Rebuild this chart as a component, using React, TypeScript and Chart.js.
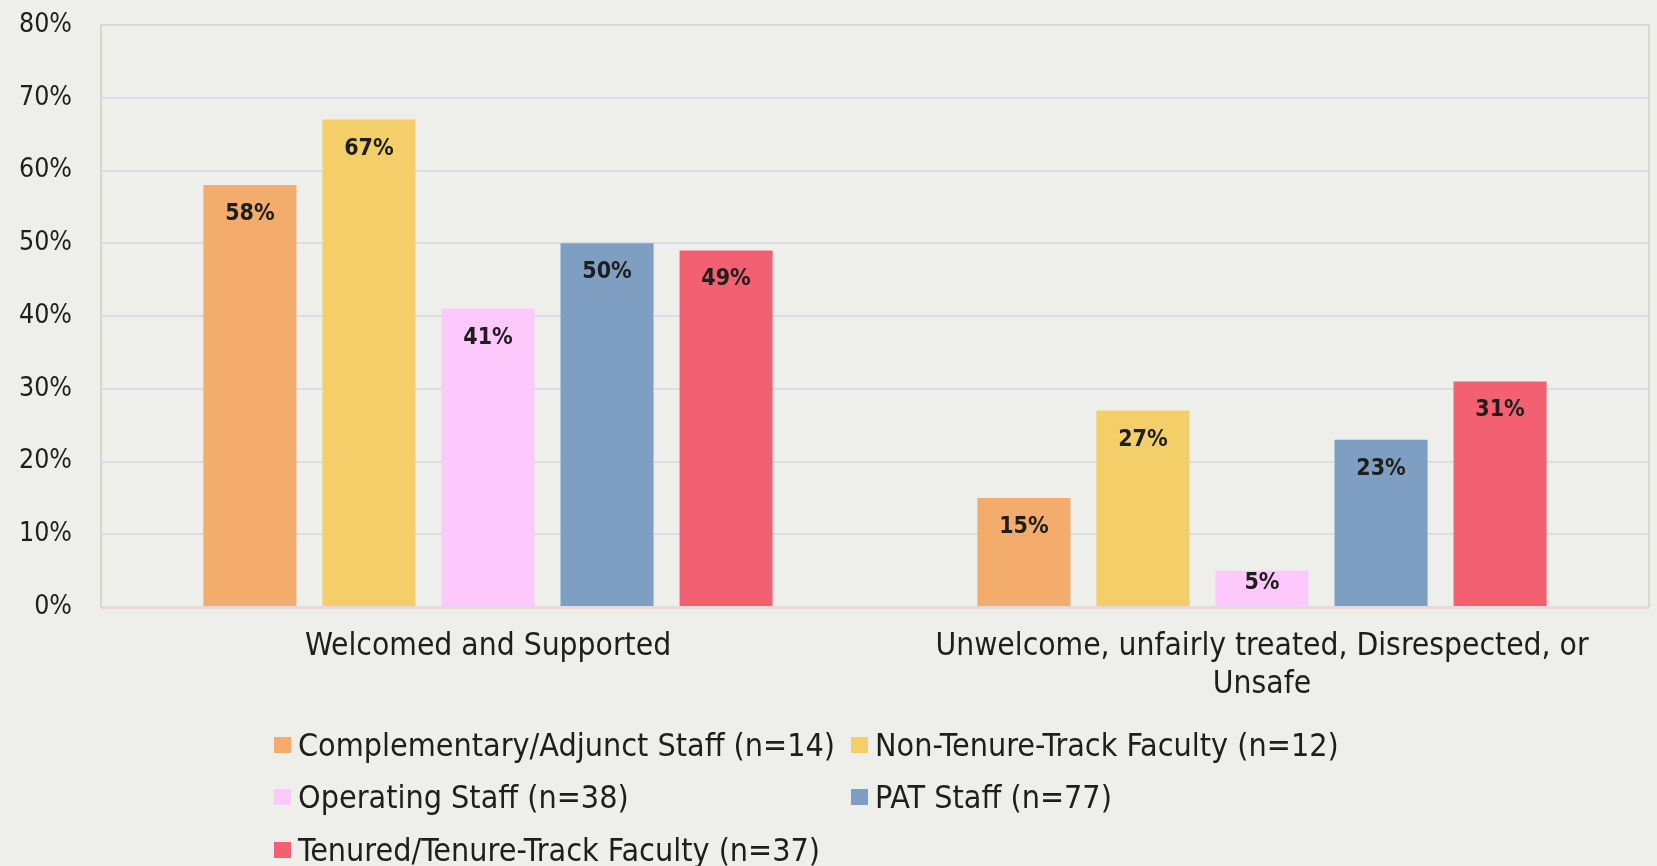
import React, { useEffect, useRef } from 'react';
import { Chart, registerables } from 'chart.js';

Chart.register(...registerables);

const categories: string[][] = [
  ['Welcomed and Supported'],
  ['Unwelcome, unfairly treated, Disrespected, or', 'Unsafe'],
];
const seriesNames = [
  'Complementary/Adjunct Staff (n=14)',
  'Non-Tenure-Track Faculty (n=12)',
  'Operating Staff (n=38)',
  'PAT Staff (n=77)',
  'Tenured/Tenure-Track Faculty (n=37)',
];
const complementaryAdjunct = [58, 15];
const nonTenureTrack = [67, 27];
const operatingStaff = [41, 5];
const patStaff = [50, 23];
const tenuredFaculty = [49, 31];
const seriesValues = [complementaryAdjunct, nonTenureTrack, operatingStaff, patStaff, tenuredFaculty];
const seriesColors = ['#F3AC6C', '#F4CF69', '#FDC9FD', '#7F9FC2', '#F26071'];
const yMin = 0;
const yMax = 80;
const yStep = 10;

const FONT = "'DejaVu Sans Condensed', 'DejaVu Sans', sans-serif";
const TEXT = '#1E1E1C';
const BG = '#EEEEEA';

const framePlugin = {
  id: 'frame',
  beforeDatasetsDraw(chart: any) {
    const { ctx, chartArea } = chart;
    const { left, right, top, bottom } = chartArea;
    ctx.save();
    ctx.lineWidth = 2;
    ctx.strokeStyle = '#D8D8D2';
    ctx.beginPath();
    ctx.moveTo(left, top);
    ctx.lineTo(right, top);
    ctx.lineTo(right, bottom);
    ctx.stroke();
    ctx.strokeStyle = '#F4D4D6';
    ctx.beginPath();
    ctx.moveTo(left, bottom + 1);
    ctx.lineTo(right, bottom + 1);
    ctx.stroke();
    ctx.restore();
  },
};

const labelPlugin = {
  id: 'barLabels',
  afterDatasetsDraw(chart: any) {
    const { ctx } = chart;
    ctx.save();
    ctx.font = `bold 23px ${FONT}`;
    ctx.fillStyle = TEXT;
    ctx.textAlign = 'center';
    ctx.textBaseline = 'middle';
    chart.data.datasets.forEach((ds: any, i: number) => {
      const meta = chart.getDatasetMeta(i);
      meta.data.forEach((el: any, j: number) => {
        const h = el.base - el.y;
        const off = Math.min(29, Math.max(12, h - 25));
        ctx.fillText(`${ds.data[j]}%`, el.x, el.y + off);
      });
    });
    ctx.restore();
  },
};

export default function App() {
  const canvasRef = useRef<HTMLCanvasElement | null>(null);

  useEffect(() => {
    document.body.style.margin = '0';
    const canvas = canvasRef.current;
    if (!canvas) return;
    const chart = new Chart(canvas, {
      type: 'bar',
      data: {
        labels: categories,
        datasets: seriesNames.map((name, i) => ({
          label: name,
          data: seriesValues[i],
          backgroundColor: seriesColors[i],
          borderWidth: 0,
          categoryPercentage: 0.769,
          barPercentage: 0.7815,
        })),
      },
      options: {
        animation: false,
        responsive: false,
        devicePixelRatio: 1,
        layout: { padding: { left: 0, right: 8, top: 25, bottom: 0 } },
        plugins: {
          legend: { display: false },
          tooltip: { enabled: false },
          title: { display: false },
        },
        scales: {
          x: {
            grid: { display: false, drawTicks: false },
            border: { display: false },
            ticks: {
              color: TEXT,
              font: { family: FONT, size: 31.5 },
              padding: 21,
              maxRotation: 0,
              autoSkip: false,
            },
            afterFit: (scale: any) => {
              scale.height = 259;
            },
          },
          y: {
            min: yMin,
            max: yMax,
            grid: { color: '#DCDCE6', lineWidth: 2, drawTicks: false },
            border: { display: true, color: '#D6D6D0', width: 2 },
            ticks: {
              stepSize: yStep,
              color: TEXT,
              font: { family: FONT, size: 26.5 },
              padding: 29,
              callback: (v: any) => `${v}%`,
            },
            afterFit: (scale: any) => {
              scale.width = 101;
              scale.paddingTop = 0;
              scale.paddingBottom = 0;
            },
          },
        },
      },
      plugins: [framePlugin, labelPlugin],
    });
    return () => chart.destroy();
  }, []);

  const legendCols = [274, 851];
  const legendRows = [745, 797, 850];

  return (
    <div
      style={{
        position: 'fixed',
        left: 0,
        top: 0,
        width: 1657,
        height: 866,
        background: BG,
        overflow: 'hidden',
      }}
    >
      <canvas ref={canvasRef} width={1657} height={866} style={{ width: 1657, height: 866, display: 'block' }} />
      {seriesNames.map((name, i) => (
        <div
          key={name}
          style={{
            position: 'absolute',
            left: legendCols[i % 2],
            top: legendRows[Math.floor(i / 2)] - 20,
            height: 40,
            display: 'flex',
            alignItems: 'center',
            fontFamily: FONT,
            fontSize: 32,
            color: TEXT,
            whiteSpace: 'nowrap',
          }}
        >
          <span style={{ display: 'inline-block', width: 17, height: 16, background: seriesColors[i], marginRight: 7 }} />
          <span>{name}</span>
        </div>
      ))}
    </div>
  );
}
